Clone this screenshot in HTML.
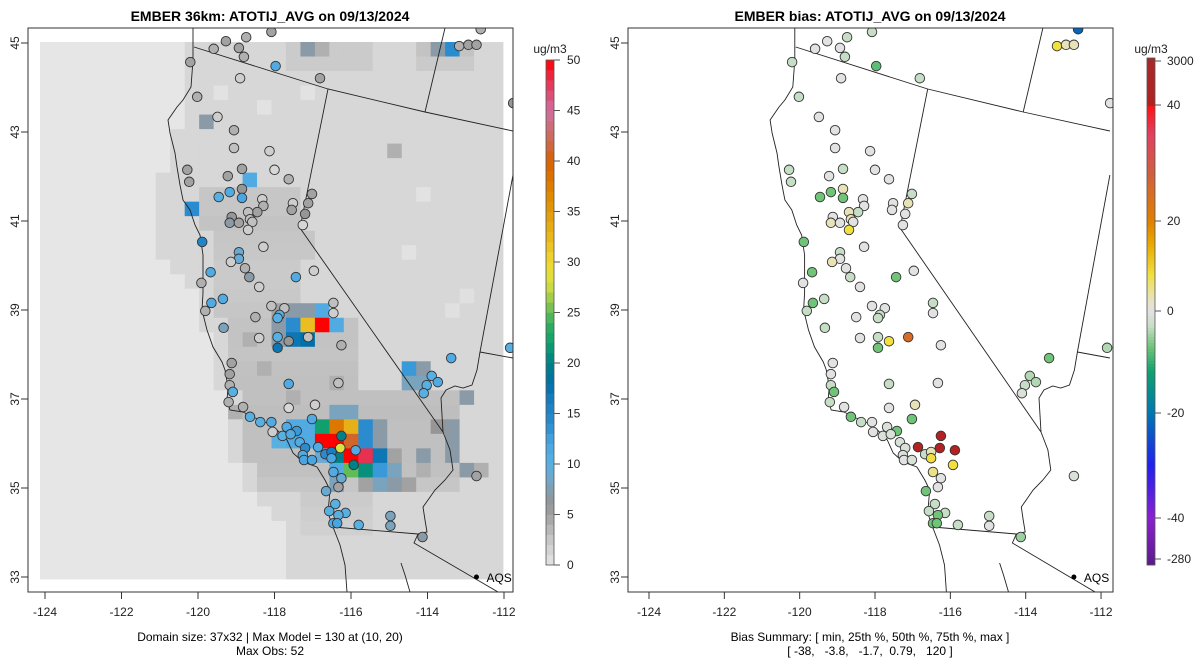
<!DOCTYPE html>
<html><head><meta charset="utf-8">
<style>
html,body{margin:0;padding:0;background:#fff;}
svg{display:block;font-family:"Liberation Sans",Arial,sans-serif;}
text{white-space:pre;}
</style></head>
<body>
<svg id="chart" width="1200" height="672" viewBox="0 0 1200 672" xmlns="http://www.w3.org/2000/svg">
<rect x="0" y="0" width="1200" height="672" fill="#fff"/>
<defs>
<clipPath id="clipL"><rect x="28" y="28" width="485" height="564"/></clipPath>
<clipPath id="clipR"><rect x="628" y="28" width="485" height="564"/></clipPath>
</defs>
<g id="left"></g>
<g id="right"></g>
</svg>
<script>
// ---------- data ----------
const gridCols = 32;
const gridRows = 37;
const landStart = [10,10,10,10,10,10,9,9,9,8,8,8,8,8,8,9,10,11,11,11,12,12,12,12,13,13,13,13,13,14,14,15,16,17,17,17,17];
const grayRanges = [
 [0,17,22,2.2],[1,17,22,2.2],[0,26,29,2.8],[1,26,29,2.3],
 [10,11,17,2.6],[11,11,17,2.6],[12,11,17,2.8],[13,12,18,2.6],[14,12,18,2.5],
 [15,12,17,2.3],[16,12,17,2.3],[17,12,17,2.4],[18,12,18,2.6],
 [19,13,21,2.8],[20,13,21,2.8],[21,13,21,2.7],[22,13,21,2.9],[23,13,21,3.0],
 [24,14,28,3.0],[25,14,28,3.1],[26,14,28,3.0],[27,14,28,3.0],[28,14,28,3.0],[29,15,28,2.9],[30,15,28,2.6],
 [31,18,22,2.2],[32,18,22,2.0],[33,18,22,1.8]
];
const specialCells = [
 [28,0,14],[27,0,7],[18,0,7],[19,0,4],[11,5,7],[14,9,11],[10,11,14],
 [24,7,4],[20,23,4],[14,20,4],[15,22,4],[13,25,4],[17,24,4],[26,10,0.3],[25,14,0.3],[12,3,0.3],[18,3,0.3],[15,4,0.3],[28,18,0.4],[29,17,0.4],[26,29,4],[30,29,4],
 [16,18,5],[17,18,7],[18,18,7],[19,18,11],
 [16,19,7],[17,19,14],[18,19,32],[19,19,50],[20,19,11],
 [16,20,7],[17,20,17],[18,20,18],
 [25,22,13],[26,22,7],[25,23,8],[26,23,8],
 [20,25,8],[21,25,8],
 [17,26,11],[18,26,11],[19,26,22],[20,26,38],[21,26,33],[22,26,14],[23,26,7],
 [16,27,10],[17,27,11],[18,27,11],[19,27,50],[20,27,50],[21,27,41],[22,27,14],[23,27,7],
 [19,28,9],[20,28,20],[21,28,50],[22,28,48],[23,28,17],[24,28,5],
 [20,29,11],[21,29,25],[22,29,21],[23,29,13],[24,29,8],
 [20,30,8],[22,30,5],[23,30,8],[24,30,7],[25,30,5],
 [28,26,7],[28,27,7],[28,28,7],[29,29,7],[29,24,7],[26,28,7],[27,26,6]
];
const siteLon = [-119.27,-118.74,-118.08,-119.59,-118.93,-118.80,-117.97,-116.81,-120.20,-118.90,-120.02,-119.49,-119.06,-119.06,-118.13,-120.28,-118.85,-118.00,-119.22,-117.63,-120.23,-119.46,-119.17,-118.85,-118.85,-118.32,-118.29,-118.45,-118.69,-119.12,-119.17,-118.93,-118.64,-118.58,-118.69,-117.52,-117.02,-117.12,-117.55,-117.20,-117.26,-119.89,-118.93,-118.29,-118.93,-119.14,-119.67,-118.77,-118.66,-117.44,-116.97,-118.40,-119.91,
-119.35,-119.65,-119.81,-118.08,-117.74,-117.87,-117.92,-118.50,-116.46,-116.46,-119.33,-118.40,-117.92,-117.63,-117.12,-117.92,-116.25,-119.12,-119.17,-119.17,-119.09,-117.63,-116.33,-119.20,-118.82,-117.63,-116.94,-117.02,-118.64,-118.37,-118.08,-118.05,-117.68,-117.42,-117.79,-117.58,-117.34,-117.20,-117.26,-117.23,-117.02,-116.25,-116.86,-116.28,-115.88,-116.67,-116.51,-116.51,-115.93,-116.46,-116.25,-116.33,-116.65,-116.41,-116.57,-116.14,-116.33,-116.46,-116.36,-115.80,-114.97,-114.97,-113.89,-113.73,-114.02,-114.10,-113.38,-111.84,-112.72,-114.13,-113.17,-112.93,-112.61,-111.76,-112.72];
const siteLat = [45.04,45.13,45.25,44.87,44.89,44.69,44.48,44.21,44.57,44.21,43.79,43.34,43.04,42.64,42.57,42.15,42.17,42.15,42.01,41.94,41.88,41.54,41.65,41.72,41.52,41.49,41.34,41.20,41.20,41.09,40.96,40.96,41.04,40.98,40.80,41.40,41.61,41.40,41.25,41.16,40.91,40.53,40.30,40.42,40.15,40.08,39.85,39.94,39.74,39.74,39.88,39.52,39.61,
39.25,39.16,38.98,39.09,39.04,38.89,38.82,38.84,39.16,38.93,38.60,38.37,38.39,38.30,38.39,38.15,38.21,37.81,37.56,37.31,37.16,37.34,37.36,36.93,36.82,36.80,36.87,36.55,36.60,36.48,36.48,36.26,36.37,36.28,36.17,36.21,36.03,35.90,35.74,35.63,35.63,36.17,35.92,35.90,35.85,35.76,35.81,35.67,35.52,35.36,35.22,35.02,34.93,34.64,34.48,34.44,34.39,34.21,34.21,34.17,34.37,34.15,37.52,37.38,37.31,37.13,37.92,38.15,35.27,33.90,44.93,44.96,45.31,43.65,44.96];
const obsValues = [5,4,5,4,5,4,11,5,5,2,4,2,4,3,2,5,5,1,5,4,5,10,11,6,12,2,4,5,3,6,7,5,3,3,2,2,5,5,5,6,1,15,9,2,9,2,11,4,7,11,2,2,4,
11,11,4,3,3,10,10,4,3,2,8,2,10,6,3,17,4,5,5,4,10,11,3,4,4,1,2,11,10,10,11,2,11,13,10,11,11,14,11,12,12,20,11,28,11,14,16,12,20,11,9,5,9,10,10,10,10,11,12,10,8,8,10,11,10,10,11,10,5,7,4,5,4,6,5];
const biasValues = [0,-3,-3,0,0,-3,-8,-3,-3,0,-3,0,0,0,0,-3,-3,0,0,0,-3,-7,-7,3,-7,0,0,-3,3,0,3,0,3,0,8,0,-3,3,0,0,0,-7,-3,0,0,3,-7,0,-3,-7,0,0,0,
-3,-7,-3,0,0,-3,-3,0,-3,0,-3,0,-3,8,25,-7,0,0,0,-3,-7,-3,0,-3,0,0,3,-7,-7,-3,0,0,-1,-7,-1,-1,-1,-1,-1,0,-1,120,110,60,90,-3,3,8,8,5,0,0,-7,-3,-3,-3,-7,-7,-7,-3,-3,0,-4,-4,-3,-1,-7,-4,-1,-5,8,3,-22,0,3];
const leftTicks = [0,5,10,15,20,25,30,35,40,45,50];
const rightTicks = [3000,40,20,0,-20,-40,-280];
const lonTicks = [-124,-122,-120,-118,-116,-114,-112];
const latTicks = [45,43,41,39,37,35,33];

// ---------- scales ----------
const NS='http://www.w3.org/2000/svg';
function mk(tag,attrs,parent){const e=document.createElementNS(NS,tag);for(const k in attrs)e.setAttribute(k,attrs[k]);parent.appendChild(e);return e;}
function hex2rgb(h){return [parseInt(h.substr(1,2),16),parseInt(h.substr(3,2),16),parseInt(h.substr(5,2),16)];}
function interpColor(stops,v){
  if(v<=stops[0][0])return stops[0][1];
  for(let i=1;i<stops.length;i++){if(v<=stops[i][0]){const a=stops[i-1],b=stops[i];const t=(v-a[0])/(b[0]-a[0]);const ca=hex2rgb(a[1]),cb=hex2rgb(b[1]);return 'rgb('+ca.map((c,j)=>Math.round(c+(cb[j]-c)*t)).join(',')+')';}}
  return stops[stops.length-1][1];
}
const leftStops=[[0,'#e6e6e6'],[1,'#d7d7d7'],[2,'#cecece'],[3,'#c0c0c0'],[4,'#b0b0b0'],[5,'#a2a2a2'],[6,'#969696'],[7,'#8a9aa6'],[8,'#7aa4be'],[9,'#68aad4'],[10,'#58b0e2'],[12,'#4aa6e2'],[14,'#2a8ccf'],[16,'#1a7ec2'],[18,'#0070a8'],[20,'#008088'],[22,'#10a070'],[24,'#34b060'],[26,'#8ec850'],[28,'#dce040'],[30,'#f0d830'],[33,'#e8b018'],[36,'#e09000'],[40,'#d86000'],[42,'#cc6a50'],[45,'#d070a0'],[48,'#e83050'],[50,'#ff0000']];
const biasStops=[[-280,'#5a1a8a'],[-40,'#8a20d0'],[-30,'#2020f0'],[-20,'#0078b0'],[-12,'#10a070'],[-7,'#70c478'],[-3,'#c6dec6'],[0,'#e2e2e2'],[3,'#e8e2b8'],[8,'#f0e040'],[15,'#e8a800'],[20,'#e08000'],[28,'#d06040'],[35,'#e04060'],[40,'#ff1010'],[50,'#b22222'],[3000,'#a52a2a']];
const biasY=[[-280,565],[-40,518],[-20,413],[0,311],[20,221],[40,105],[3000,58]];
function biasToY(v){for(let i=1;i<biasY.length;i++){if(v<=biasY[i][0]){const a=biasY[i-1],b=biasY[i];return a[1]+(v-a[0])/(b[0]-a[0])*(b[1]-a[1]);}}return 58;}
const PL={x0:45,kx:38.25}, PR={x0:649,kx:37.67};
function px(P,lon){return P.x0+(lon+124)*P.kx;}
function py(lat){return 43+(45-lat)*44.5;}

const L=document.getElementById('left'), R=document.getElementById('right');

// ---------- grid (left) ----------
const gridG=mk('g',{'clip-path':'url(#clipL)'},L);


const cw=463/gridCols, ch=537/gridRows;
const vals=[];
for(let r=0;r<gridRows;r++){vals.push([]);for(let c=0;c<gridCols;c++){vals[r].push(c>=landStart[r]?1:0);}}
grayRanges.forEach(g=>{for(let c=g[1];c<=g[2];c++){if(c<gridCols&&g[0]<gridRows)vals[g[0]][c]=g[3];}});
specialCells.forEach(s=>{vals[s[1]][s[0]]=s[2];});
for(let r=0;r<gridRows;r++)for(let c=0;c<gridCols;c++){
  const e=mk('rect',{x:(40+c*cw).toFixed(2),y:(42+r*ch).toFixed(2),width:(cw+0.4).toFixed(2),height:(ch+0.4).toFixed(2),fill:interpColor(leftStops,vals[r][c])},gridG);
  
  
}

// ---------- basemap ----------
const coast=[[193,28],[193,40],[193,60],[191,87],[183,100],[177,107],[168,120],[170,133],[175,153],[177,167],[180,185],[183,200],[190,210],[195,225],[200,235],[203,255],[203,280],[203,293],[202,310],[207,330],[213,347],[222,362],[225,370],[228,387],[227,400],[230,410],[243,412],[253,417],[267,423],[277,430],[287,440],[293,453],[303,462],[317,467],[325,480],[330,490],[328,513],[333,527],[340,545],[345,565],[347,592]];
const baja=[[401,563],[405,575],[410,592]];
const borders=[
 [[194,47],[328,89],[425,112],[513,131]],
 [[445,28],[425,112]],
 [[328,89],[300,228],[443,432]],
 [[443,432],[450,450],[453,470],[445,480],[435,490],[428,500],[423,507],[425,520],[427,532],[418,534]],
 [[333,527],[418,534]],
 [[418,534],[414,543],[498,592]],
 [[513,175],[480,352]],
 [[480,352],[477,370],[472,385],[463,388],[455,386],[446,390],[441,398],[443,432]],
 [[480,352],[513,358]]
];
function drawLines(G,P,clip){
  const g=mk('g',{'clip-path':clip,fill:'none',stroke:'#222','stroke-width':'0.9'},G);
  
  
  const conv=p=>(P.x0+(p[0]-45)*P.kx/38.25).toFixed(1)+','+p[1];
  [coast,baja].concat(borders).forEach(line=>{mk('polyline',{points:line.map(conv).join(' ')},g);});
}
drawLines(L,PL,'url(#clipL)');
drawLines(R,PR,'url(#clipR)');

// ---------- sites ----------
function drawSites(G,P,clip,colorFn,arr,name){
  const g=mk('g',{'clip-path':clip},G);
  
  
  for(let i=0;i<siteLon.length;i++){
    const c=mk('circle',{cx:px(P,siteLon[i]).toFixed(1),cy:py(siteLat[i]).toFixed(1),r:4.8,fill:colorFn(arr[i]),stroke:'#333','stroke-width':'0.9'},g);
    
    
  }
}
drawSites(L,PL,'url(#clipL)',v=>interpColor(leftStops,v),obsValues,'obs-sites');
drawSites(R,PR,'url(#clipR)',v=>interpColor(biasStops,v),biasValues,'bias-sites');

// ---------- axes ----------
function axes(G,P,bx,title,l1,l2,cx){
  const box=mk('rect',{x:bx,y:28,width:485,height:564,fill:'none',stroke:'#333','stroke-width':'1'},G);
  
  
  lonTicks.forEach(t=>{
    const x=px(P,t);
    mk('line',{x1:x,y1:592,x2:x,y2:599,stroke:'#333'},G);
    const tx=mk('text',{x:x,y:616,'text-anchor':'middle','font-size':'12',fill:'#222'},G);tx.textContent=t;
    
    
  });
  latTicks.forEach(t=>{
    const y=py(t);
    mk('line',{x1:bx-7,y1:y,x2:bx,y2:y,stroke:'#333'},G);
    const tx=mk('text',{x:0,y:0,transform:'translate('+(bx-9)+','+y+') rotate(-90)','text-anchor':'middle','font-size':'12',fill:'#222'},G);tx.textContent=t;
    
    
  });
  const tt=mk('text',{x:cx,y:21,'text-anchor':'middle','font-size':'14','font-weight':'bold',fill:'#000'},G);tt.textContent=title;
  
  
  const a=mk('text',{x:cx,y:641,'text-anchor':'middle','font-size':'12',fill:'#000'},G);a.textContent=l1;
  
  
  const b=mk('text',{x:cx,y:655,'text-anchor':'middle','font-size':'12',fill:'#000'},G);b.textContent=l2;
  
  
  const ax=px(P,-112.72), ay=py(33);
  const d=mk('circle',{cx:ax,cy:ay,r:2.5,fill:'#000'},G);
  
  
  const at=mk('text',{x:ax+10,y:ay+5,'font-size':'12',fill:'#000'},G);at.textContent='AQS';
  
  
}
axes(L,PL,28,'EMBER 36km: ATOTIJ_AVG on 09/13/2024','Domain size: 37x32 | Max Model = 130 at (10, 20)','Max Obs: 52',270);
axes(R,PR,628,'EMBER bias: ATOTIJ_AVG on 09/13/2024','Bias Summary: [ min, 25th %, 50th %, 75th %, max ]','[ -38,   -3.8,   -1.7,  0.79,   120 ]',870);

// ---------- colorbars ----------
const cbL=mk('g',{},L);


for(let v=0;v<50;v+=1){
  const y1=565-(v+1)*10.1, y0=565-v*10.1;
  mk('rect',{x:546,y:y1.toFixed(1),width:8,height:(y0-y1+0.3).toFixed(1),fill:interpColor(leftStops,v+0.5)},cbL);
}
mk('rect',{x:546,y:60,width:8,height:505,fill:'none',stroke:'#555','stroke-width':'0.8'},cbL);
leftTicks.forEach(t=>{const y=565-t*10.1;mk('line',{x1:554,y1:y,x2:560,y2:y,stroke:'#555'},cbL);const tx=mk('text',{x:567,y:y+4,'font-size':'12',fill:'#222'},cbL);tx.textContent=t;
  
  });
const uL=mk('text',{x:550,y:53,'text-anchor':'middle','font-size':'12',fill:'#222'},cbL);uL.textContent='ug/m3';

const cbR=mk('g',{},R);


for(let y=58;y<565;y+=3){
  let v=0;for(let i=1;i<biasY.length;i++){const a=biasY[i-1],b=biasY[i];if(y+1.5<=a[1]&&y+1.5>=b[1]){v=a[0]+(y+1.5-a[1])/(b[1]-a[1])*(b[0]-a[0]);break;}}
  mk('rect',{x:1147,y:y,width:8,height:3.3,fill:interpColor(biasStops,v)},cbR);
}
mk('rect',{x:1147,y:58,width:8,height:507,fill:'none',stroke:'#555','stroke-width':'0.8'},cbR);
rightTicks.forEach(t=>{const y=biasToY(t)+(t===3000?3:0)+(t===-280?-6:0);mk('line',{x1:1155,y1:y,x2:1161,y2:y,stroke:'#555'},cbR);const tx=mk('text',{x:1167,y:y+4,'font-size':'12',fill:'#222'},cbR);tx.textContent=t;
  
  });
const uR=mk('text',{x:1151,y:53,'text-anchor':'middle','font-size':'12',fill:'#222'},cbR);uR.textContent='ug/m3';
</script>
</body></html>
